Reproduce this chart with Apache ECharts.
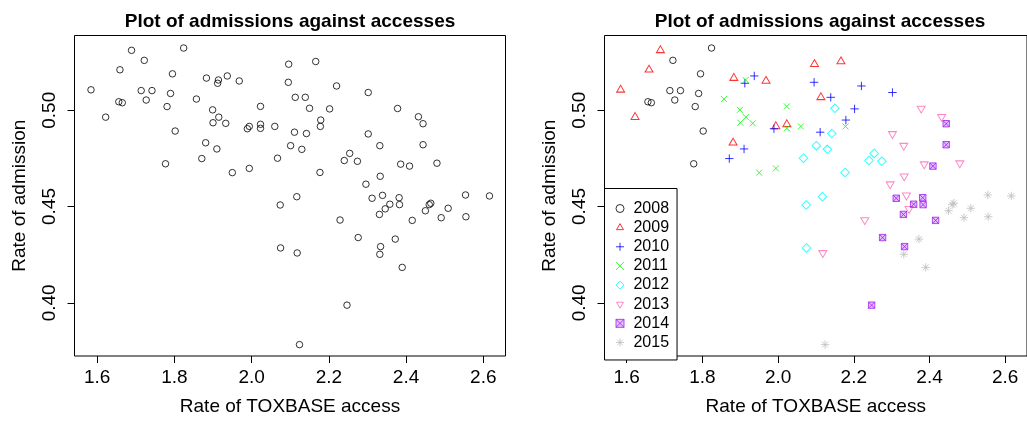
<!DOCTYPE html>
<html><head><meta charset="utf-8">
<script src="https://cdn.jsdelivr.net/npm/echarts@6/dist/echarts.min.js"></script>
<style>html,body{margin:0;padding:0;background:#fff}#c{width:1027px;height:421px}</style>
</head><body><div id="c"></div>
<script>
// ---- data ----
const years = ['2008', '2009', '2010', '2011', '2012', '2013', '2014', '2015'];

const access2008 = [1.722, 1.824, 1.795, 1.714, 1.742, 1.790, 1.727, 1.656, 1.665, 1.781, 1.802, 1.777];
const admit2008  = [0.5259, 0.5323, 0.5189, 0.5102, 0.5102, 0.5087, 0.5053, 0.5044, 0.5039, 0.5019, 0.4892, 0.4722];

const access2009 = [1.689, 1.659, 1.584, 1.622, 1.883, 1.968, 2.096, 2.166, 2.113, 1.994, 2.023, 1.881];
const admit2009  = [0.5311, 0.5210, 0.5106, 0.4964, 0.5167, 0.5152, 0.5239, 0.5253, 0.5067, 0.4916, 0.4927, 0.4831];

const access2010 = [1.912, 1.937, 2.095, 2.220, 2.302, 2.139, 2.202, 2.179, 2.111, 1.989, 1.910, 1.871];
const admit2010  = [0.5140, 0.5178, 0.5145, 0.5126, 0.5092, 0.5067, 0.5007, 0.4949, 0.4886, 0.4904, 0.4799, 0.4749];

const access2011 = [1.914, 1.857, 1.899, 1.915, 1.900, 1.933, 2.023, 2.023, 2.060, 2.178, 1.950, 1.994];
const admit2011  = [0.5157, 0.5058, 0.5002, 0.4964, 0.4935, 0.4932, 0.5020, 0.4906, 0.4916, 0.4916, 0.4676, 0.4698];

const access2012 = [2.150, 2.142, 2.101, 2.130, 2.067, 2.254, 2.240, 2.274, 2.177, 2.117, 2.074, 2.075];
const admit2012  = [0.5010, 0.4879, 0.4816, 0.4797, 0.4751, 0.4776, 0.4739, 0.4735, 0.4677, 0.4551, 0.4508, 0.4285];

const access2013 = [2.378, 2.432, 2.302, 2.332, 2.386, 2.480, 2.333, 2.296, 2.339, 2.346, 2.229, 2.118];
const admit2013  = [0.5009, 0.4966, 0.4877, 0.4816, 0.4720, 0.4725, 0.4657, 0.4616, 0.4558, 0.4488, 0.4430, 0.4259];

const access2014 = [2.444, 2.444, 2.409, 2.312, 2.382, 2.358, 2.383, 2.331, 2.416, 2.276, 2.334, 2.247];
const admit2014  = [0.4930, 0.4821, 0.4710, 0.4543, 0.4546, 0.4512, 0.4510, 0.4459, 0.4428, 0.4339, 0.4292, 0.3988];

const access2015 = [2.554, 2.616, 2.464, 2.460, 2.450, 2.509, 2.491, 2.555, 2.372, 2.332, 2.390, 2.124];
const admit2015  = [0.4560, 0.4555, 0.4517, 0.4510, 0.4478, 0.4491, 0.4442, 0.4447, 0.4331, 0.4252, 0.4184, 0.3783];

const xTicks = [1.6, 1.8, 2.0, 2.2, 2.4, 2.6];
const yTicks = [0.40, 0.45, 0.50];

const titleText = 'Plot of admissions against accesses';
const xName = 'Rate of TOXBASE access';
const yName = 'Rate of admission';

// ---- styling ----
const FONT = '"Liberation Sans", Arial, Helvetica, sans-serif';
const accessByYear = [access2008, access2009, access2010, access2011, access2012, access2013, access2014, access2015];
const admitByYear = [admit2008, admit2009, admit2010, admit2011, admit2012, admit2013, admit2014, admit2015];
const colors = ['#000000', '#FF0000', '#0000FF', '#00FF00', '#00FFFF', '#FF69B4', '#A020F0', '#BEBEBE'];
const fills = ['rgba(0,0,0,0)', 'rgba(0,0,0,0)', 'rgba(0,0,0,0)', 'rgba(0,0,0,0)', 'rgba(0,0,0,0)', 'rgba(0,0,0,0)', 'rgba(160,32,240,0.35)', 'rgba(0,0,0,0)'];
const symbols = [
  'circle',
  'path://M10 0 L18.66 15 L1.34 15 Z M10 20 L10 20',
  'path://M10 0 L10 20 M0 10 L20 10',
  'path://M0 0 L20 20 M20 0 L0 20',
  'path://M10 0 L20 10 L10 20 L0 10 Z',
  'path://M1.34 5 L18.66 5 L10 20 Z M10 0 L10 0',
  'path://M0 0 L20 0 L20 20 L0 20 Z M0 0 L20 20 M20 0 L0 20',
  'path://M10 0 L10 20 M0 10 L20 10 M2.93 2.93 L17.07 17.07 M17.07 2.93 L2.93 17.07'
];
const sizes = [6.5, [8, 9.2], 8.4, 6, 8.6, [8, 9.2], 6.4, 8.4];

const xMin = 1.5413, xMax = 2.6575, yMin = 0.3724, yMax = 0.5388;
const pairs = (xs, ys) => xs.map((x, i) => [x, ys[i]]);

const grids = [
  { left: 74.5, top: 35.5, width: 431, height: 325 },
  { left: 604.5, top: 35.5, width: 431, height: 325 }
];

function xAxis(gi) {
  return {
    type: 'value', gridIndex: gi, min: xMin, max: xMax,
    name: xName, nameLocation: 'middle', nameGap: 41,
    nameTextStyle: { fontFamily: FONT, fontSize: 19, color: '#000', lineHeight: 19 },
    axisLine: { show: false },
    splitLine: { show: false },
    axisTick: { show: true, inside: false, length: 7, customValues: xTicks, lineStyle: { color: '#000', width: 1 } },
    axisLabel: { show: true, customValues: xTicks, margin: 12, fontFamily: FONT, fontSize: 19, lineHeight: 19, color: '#000',
                 formatter: v => v.toFixed(1) }
  };
}
function yAxis(gi) {
  return {
    type: 'value', gridIndex: gi, min: yMin, max: yMax,
    name: yName, nameLocation: 'middle', nameGap: 45, nameRotate: 90,
    nameTextStyle: { fontFamily: FONT, fontSize: 19, color: '#000', lineHeight: 19 },
    axisLine: { show: false },
    splitLine: { show: false },
    axisTick: { show: true, inside: false, length: 7, customValues: yTicks, lineStyle: { color: '#000', width: 1 } },
    axisLabel: { show: true, customValues: yTicks, rotate: 90, margin: 15, fontFamily: FONT, fontSize: 19, lineHeight: 19, color: '#000',
                 formatter: v => v.toFixed(2) }
  };
}

const series = [{
  type: 'scatter', name: 'all', xAxisIndex: 0, yAxisIndex: 0,
  data: accessByYear.flatMap((xs, i) => pairs(xs, admitByYear[i])),
  symbol: 'circle', symbolSize: 6.5,
  itemStyle: { color: 'rgba(0,0,0,0)', borderColor: '#000', borderWidth: 1 },
  emphasis: { disabled: true }, silent: true
}];
years.forEach((yr, i) => {
  series.push({
    type: 'scatter', name: yr, xAxisIndex: 1, yAxisIndex: 1,
    data: pairs(accessByYear[i], admitByYear[i]),
    symbol: symbols[i], symbolSize: sizes[i],
    itemStyle: { color: fills[i], borderColor: colors[i], borderWidth: 1 },
    emphasis: { disabled: true }, silent: true
  });
});

const chart = echarts.init(document.getElementById('c'), null, { renderer: 'canvas' });
chart.setOption({
  animation: false,
  backgroundColor: '#fff',
  title: [
    { text: titleText, left: 290, top: 12, textAlign: 'center', padding: 0,
      textStyle: { fontFamily: FONT, fontSize: 19, fontWeight: 'bold', color: '#000', lineHeight: 19 } },
    { text: titleText, left: 820, top: 12, textAlign: 'center', padding: 0,
      textStyle: { fontFamily: FONT, fontSize: 19, fontWeight: 'bold', color: '#000', lineHeight: 19 } }
  ],
  grid: grids.map(g => Object.assign({ show: true, borderColor: '#000', borderWidth: 1, backgroundColor: 'transparent', containLabel: false }, g)),
  xAxis: [xAxis(0), xAxis(1)],
  yAxis: [yAxis(0), yAxis(1)],
  legend: {
    data: years, orient: 'vertical', left: 604.5, top: 188.5,
    padding: [12, 8, 9.5, 11], itemGap: 3.14, itemWidth: 8, itemHeight: 8,
    selectedMode: false, backgroundColor: '#fff', borderColor: '#000', borderWidth: 1, borderRadius: 0,
    itemStyle: { borderWidth: 1 },
    formatter: n => ' ' + n,
    textStyle: { fontFamily: FONT, fontSize: 16, lineHeight: 16, color: '#000' }
  },
  tooltip: { show: false },
  series: series
});
</script>
</body></html>
